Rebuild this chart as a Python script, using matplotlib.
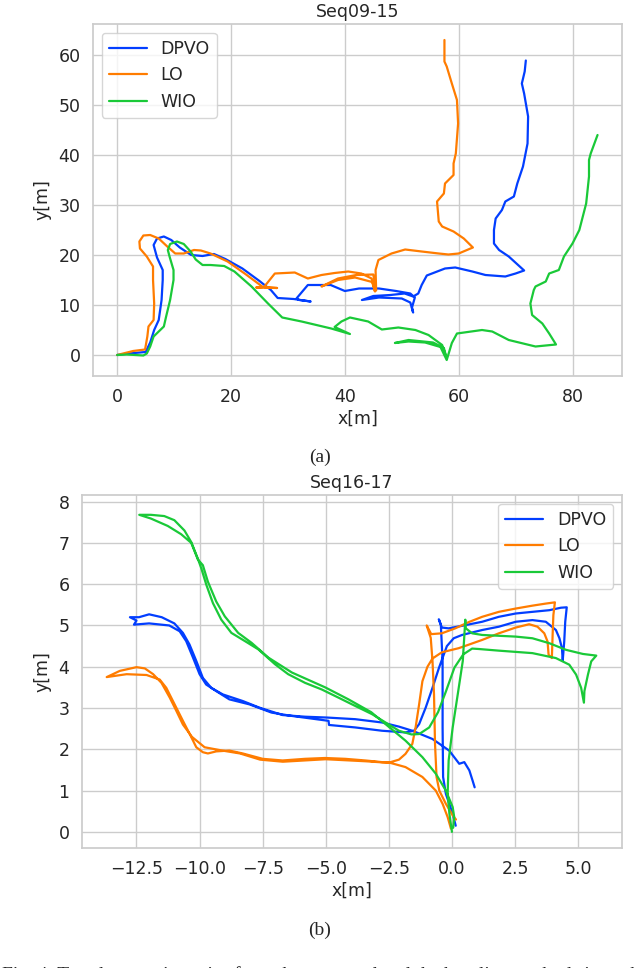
import numpy as np
import matplotlib
matplotlib.use("Agg")
import matplotlib.pyplot as plt
import seaborn as sns

# ── DATA (x[m], y[m]) ──────────────────────────────────────────────────────────

LABELS = ["DPVO", "LO", "WIO"]

SEQ09_DPVO = [
    (0, 0), (2, 0.3), (5, 0.6), (5.8, 2.5), (6.5, 5), (7.3, 7), (7.8, 11), (8, 15),
    (8, 17), (7, 19.5), (6.4, 22), (7, 23.3), (8.2, 23.7), (9.5, 23), (11, 21.5),
    (13, 20), (15, 19.8), (17, 20.2), (19, 19.2), (22, 17.3), (25, 14.8), (27, 13),
    (28.2, 11.4), (31, 11.2), (34, 10.7), (32, 11), (31.5, 11.3), (33.5, 14),
    (37.5, 14), (40, 12.8), (42.5, 13.3), (46, 13.3), (49, 12.8), (51.5, 12.3),
    (52.3, 11.5), (51.8, 9.5), (52, 8.5), (51.5, 10.5), (50, 11.3), (46, 11.5),
    (43, 11), (45, 11.8), (48, 12), (50.5, 12.3), (52, 11.7), (52.9, 12.3),
    (53.5, 14), (54.4, 15.9), (57.6, 17.3), (59.4, 17.5), (62.4, 16.7), (64.7, 16),
    (68.2, 15.7), (70, 16.3), (71.5, 16.9), (68.8, 19.7), (67.1, 21), (66.2, 22.3),
    (66.2, 25), (66.5, 27.3), (67.6, 29), (68.2, 30.7), (69.7, 31.7), (70.3, 34.3),
    (71.3, 37.7), (72.1, 42.3), (72.2, 47.7), (71.5, 52.3), (71.1, 54.3),
    (71.6, 56.7), (71.8, 58.9),
]

SEQ09_LO = [
    (0, 0), (2.8, 0.8), (4.9, 1.1), (5.3, 3.7), (5.5, 5.7), (6.4, 7), (6.5, 10.3),
    (6.3, 15), (6.3, 17.7), (5.2, 19.7), (4, 21.3), (3.9, 22.7), (4.6, 23.9),
    (5.8, 24), (7.3, 23.3), (8.8, 21.7), (10.2, 20.3), (11.7, 20.3), (13.5, 21),
    (14.7, 20.9), (16.4, 20.3), (19.4, 18.7), (22.4, 16.3), (25.6, 13.6),
    (24.4, 13.5), (28.1, 13.4), (25.8, 13.6), (27.7, 16.3), (31.2, 16.5),
    (33.5, 15.3), (35.9, 16), (38.2, 16.4), (40.6, 16.7), (42.9, 16.3),
    (44.7, 15.3), (45.3, 12.7), (44.8, 14.6), (41.8, 15.5), (38.8, 15),
    (35.9, 13.7), (38.8, 15.3), (42, 16), (45, 16.1), (45.5, 12.9), (45.4, 17),
    (45.9, 19), (48.2, 20.3), (50.6, 21.1), (53.5, 20.7), (56.5, 20.3),
    (58.2, 20.1), (60, 20.3), (62.5, 21.5), (60.9, 23.3), (59.1, 24.7),
    (57.1, 25.7), (56.5, 26.7), (56.2, 30.7), (57.4, 32.3), (57.6, 34.3),
    (59.1, 36), (59.1, 38.3), (59.5, 40.3), (59.9, 46.3), (59.7, 51), (58.8, 54.3),
    (57.9, 57.7), (57.5, 58.7), (57.5, 63),
]

SEQ09_WIO = [
    (0, 0), (1.7, 0.1), (4.6, -0.1), (5.2, 0.3), (5.8, 1.7), (6.4, 3.7), (8.2, 5.7),
    (8.6, 7.7), (9.3, 11), (9.9, 15), (9.9, 17), (9.2, 19.7), (8.9, 21), (9.3, 22.2),
    (10.5, 22.7), (11.7, 22.2), (12.9, 20.7), (13.8, 19.1), (15, 18), (16.4, 18),
    (18.8, 17.8), (20.6, 16.7), (23.6, 13.7), (26.5, 10.3), (29, 7.5), (32.4, 6.7),
    (37.6, 5.3), (40.9, 4.2), (38.2, 5.6), (39.4, 6.7), (40.9, 7.5), (44.1, 6.7),
    (46.5, 5.1), (49.4, 5.5), (52.4, 5), (54.7, 4), (57.1, 2), (57.9, -0.7),
    (57.4, 1.4), (55.5, 2.5), (51.2, 3), (48.8, 2.4), (51.2, 2.7), (54.1, 2.5),
    (56.8, 1.6), (57.9, -1), (58.8, 2.4), (59.7, 4.3), (64.1, 5), (65.9, 4.7),
    (68.8, 3), (73.5, 1.7), (77.1, 2.1), (75.9, 4.3), (74.7, 6.3), (72.9, 8),
    (72.6, 10.3), (73.2, 13), (73.5, 13.7), (75.3, 14.7), (75.9, 16.3), (77.6, 17),
    (78.5, 19.7), (80, 22.3), (81.2, 25), (82.4, 30.3), (82.9, 35.7), (82.9, 39),
    (83.2, 40.3), (84.4, 44),
]

SEQ16_DPVO = [
    (0.15, 0.15), (0.03, 0.44), (-0.24, 0.92), (-0.35, 1.33), (-0.37, 2.53),
    (-0.37, 4.14), (-0.44, 5.02), (-0.52, 5.15), (-0.4, 4.95), (-0.13, 4.93),
    (0.47, 5.0), (1.2, 5.09), (1.86, 5.21), (2.53, 5.29), (3.19, 5.33), (3.86, 5.37),
    (4.32, 5.43), (4.55, 5.44), (4.49, 5.09), (4.45, 4.61), (4.39, 4.15),
    (4.36, 4.45), (4.26, 4.69), (4.12, 4.89), (3.72, 5.09), (3.19, 5.13),
    (2.53, 5.09), (1.86, 4.97), (1.2, 4.89), (0.4, 4.77), (0.07, 4.69),
    (-0.2, 4.5), (-0.51, 3.98), (-0.77, 3.49), (-1.04, 3.01), (-1.3, 2.61),
    (-1.5, 2.45), (-1.84, 2.41), (-2.77, 2.45), (-3.83, 2.53), (-4.87, 2.59),
    (-4.89, 2.69), (-6.36, 2.81), (-7.15, 2.89), (-8.03, 3.09), (-8.82, 3.21),
    (-9.34, 3.41), (-9.74, 3.57), (-10.0, 3.82), (-10.26, 4.22), (-10.53, 4.62),
    (-10.79, 4.86), (-11.2, 5.0), (-12.0, 5.05), (-12.6, 5.02), (-12.5, 5.12),
    (-12.76, 5.2), (-12.4, 5.2), (-12.0, 5.27), (-11.5, 5.2), (-11.0, 5.05),
    (-10.66, 4.82), (-10.4, 4.54), (-10.13, 4.14), (-9.87, 3.73), (-9.54, 3.49),
    (-9.08, 3.33), (-8.29, 3.17), (-7.63, 3.01), (-6.71, 2.83), (-5.82, 2.79),
    (-4.96, 2.77), (-3.83, 2.73), (-2.77, 2.65), (-2.1, 2.55), (-1.57, 2.45),
    (-0.77, 2.25), (-0.11, 1.97), (0.29, 1.65), (0.49, 1.69), (0.69, 1.49),
    (0.82, 1.24), (0.9, 1.08),
]

SEQ16_LO = [
    (0.16, 0.3), (0.03, 0.4), (-0.24, 0.68), (-0.5, 1.0), (-0.61, 1.33),
    (-0.67, 2.13), (-0.71, 3.33), (-0.77, 4.14), (-0.84, 4.7), (-1.0, 5.0),
    (-0.82, 4.79), (-0.4, 4.81), (0.13, 4.93), (0.66, 5.08), (1.2, 5.21),
    (1.86, 5.33), (2.53, 5.41), (3.19, 5.48), (3.72, 5.53), (4.08, 5.56),
    (4.02, 5.25), (3.99, 4.77), (3.96, 4.21), (3.83, 4.29), (3.79, 4.61),
    (3.66, 4.81), (3.39, 4.97), (3.06, 5.03), (2.53, 4.95), (1.86, 4.81),
    (1.2, 4.65), (0.27, 4.45), (-0.4, 4.35), (-0.77, 4.2), (-0.97, 4.0),
    (-1.17, 3.65), (-1.3, 3.09), (-1.44, 2.53), (-1.57, 2.13), (-1.84, 1.89),
    (-2.1, 1.75), (-2.43, 1.69), (-2.77, 1.69), (-3.43, 1.73), (-4.23, 1.77),
    (-5.03, 1.79), (-5.82, 1.77), (-6.71, 1.73), (-7.5, 1.77), (-8.29, 1.9),
    (-8.82, 1.97), (-9.34, 1.95), (-9.67, 1.9), (-9.87, 1.93), (-10.13, 2.05),
    (-10.39, 2.37), (-10.66, 2.69), (-10.99, 3.09), (-11.32, 3.49), (-11.58, 3.69),
    (-12.1, 3.8), (-12.89, 3.82), (-13.68, 3.75), (-13.16, 3.9), (-12.5, 3.99),
    (-12.17, 3.96), (-11.84, 3.82), (-11.51, 3.61), (-11.18, 3.25), (-10.92, 2.93),
    (-10.66, 2.6), (-10.3, 2.3), (-9.8, 2.05), (-9.1, 1.97), (-8.4, 1.9),
    (-7.6, 1.75), (-6.7, 1.7), (-5.0, 1.76), (-3.4, 1.71), (-2.43, 1.67),
    (-1.84, 1.57), (-1.17, 1.33), (-0.64, 1.0), (-0.37, 0.68), (-0.17, 0.36),
    (-0.04, 0.08),
]

SEQ16_WIO = [
    (0, 0), (-0.1, 0.44), (-0.17, 0.92), (-0.13, 1.73), (0.03, 2.53), (0.23, 3.33),
    (0.43, 4.14), (0.53, 5.14), (0.55, 4.93), (0.8, 4.81), (1.2, 4.77), (2.53, 4.73),
    (3.19, 4.69), (3.86, 4.57), (4.52, 4.41), (5.19, 4.31), (5.72, 4.27),
    (5.52, 4.13), (5.39, 3.81), (5.25, 3.41), (5.23, 3.13), (5.12, 3.49),
    (4.92, 3.81), (4.65, 4.05), (4.12, 4.21), (3.19, 4.33), (1.86, 4.39),
    (1.06, 4.43), (0.8, 4.44), (0.45, 4.3), (0.1, 3.98), (-0.24, 3.4), (-0.55, 2.9),
    (-0.9, 2.53), (-1.3, 2.37), (-1.6, 2.36), (-2.1, 2.45), (-2.63, 2.65),
    (-3.16, 2.85), (-3.83, 3.05), (-4.49, 3.25), (-5.16, 3.45), (-5.82, 3.61),
    (-6.49, 3.82), (-7.01, 4.06), (-7.67, 4.42), (-8.2, 4.62), (-8.74, 4.82),
    (-9.14, 5.14), (-9.47, 5.54), (-9.73, 5.98), (-9.93, 6.38), (-10.07, 6.62),
    (-10.33, 7.02), (-10.6, 7.3), (-11.0, 7.55), (-11.4, 7.65), (-11.93, 7.68),
    (-12.39, 7.68), (-11.93, 7.59), (-11.26, 7.41), (-10.73, 7.21), (-10.33, 7.0),
    (-10.07, 6.6), (-9.87, 6.46), (-9.67, 6.06), (-9.34, 5.58), (-9.0, 5.22),
    (-8.47, 4.82), (-7.94, 4.58), (-7.27, 4.22), (-6.34, 3.86), (-5.02, 3.5),
    (-4.1, 3.21), (-3.2, 2.9), (-2.63, 2.61), (-1.84, 2.21), (-1.17, 1.81),
    (-0.64, 1.41), (-0.24, 1.0), (0.03, 0.6), (0.09, 0.36), (0.05, 0.1),
]

TOP_XTICKS = [0, 20, 40, 60, 80]
TOP_YTICKS = [0, 10, 20, 30, 40, 50, 60]
BOT_XTICKS = [-12.5, -10.0, -7.5, -5.0, -2.5, 0.0, 2.5, 5.0]
BOT_YTICKS = [0, 1, 2, 3, 4, 5, 6, 7, 8]

CAPTION = "Fig. 4: Top-down trajectories from the proposed and the baseline methods in each"


# ── PLOT ───────────────────────────────────────────────────────────────────────

def draw(ax, series, title, legend_loc):
    colors = sns.color_palette("bright")[:3]
    for pts, lab, col in zip(series, LABELS, colors):
        arr = np.array(pts)
        ax.plot(arr[:, 0], arr[:, 1], color=col, lw=1.6, label=lab)
    ax.set_title(title, fontsize=12.5, pad=5)
    ax.set_xlabel("x[m]", fontsize=12.5, labelpad=2.5)
    ax.set_ylabel("y[m]", fontsize=12.5, labelpad=5)
    ax.tick_params(labelsize=12.5, pad=3)
    ax.legend(loc=legend_loc, fontsize=12.5, handlelength=2.2,
              borderaxespad=0.5, labelspacing=0.5)


def main():
    sns.set_theme(style="whitegrid")
    plt.rcParams['font.family'] = ['DejaVu Sans']

    fig = plt.figure(figsize=(6.4, 9.68), dpi=100)

    # top panel: 24..376 px, bottom panel: 495..848 px
    ax1 = fig.add_axes([0.1453, 1 - 376 / 968, 0.8266, 352 / 968])
    draw(ax1, [SEQ09_DPVO, SEQ09_LO, SEQ09_WIO], "Seq09-15", "upper left")
    ax1.set_xticks(TOP_XTICKS)
    ax1.set_yticks(TOP_YTICKS)
    ax1.set_xlim(-4.25, 88.7)
    ax1.set_ylim(-4.2, 66.2)

    ax2 = fig.add_axes([0.1281, 1 - 848 / 968, 0.8438, 353 / 968])
    draw(ax2, [SEQ16_DPVO, SEQ16_LO, SEQ16_WIO], "Seq16-17", "upper right")
    ax2.set_xticks(BOT_XTICKS)
    ax2.set_yticks(BOT_YTICKS)
    ax2.set_xlim(-14.66, 6.74)
    ax2.set_ylim(-0.39, 8.16)

    serif = ['Liberation Serif', 'DejaVu Serif']
    fig.text(0.5, 1 - 457 / 968, "(a)", ha='center', va='center',
             fontsize=14, family=serif)
    fig.text(0.5, 1 - 930 / 968, "(b)", ha='center', va='center',
             fontsize=14, family=serif)
    # caption is cut by the lower edge, as in the source page
    fig.text(0.003, 1 - 975 / 968, CAPTION, ha='left', va='center',
             fontsize=14, family=serif)

    fig.savefig("out.png", dpi=100)


if __name__ == "__main__":
    main()
